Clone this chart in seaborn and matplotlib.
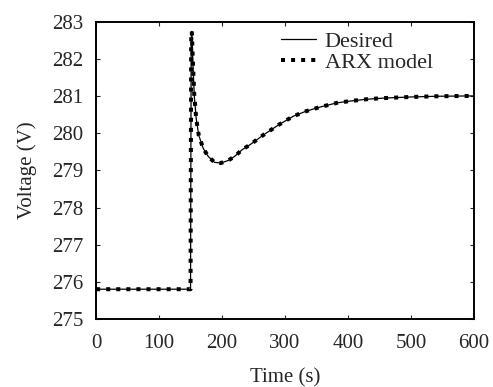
import matplotlib
matplotlib.use("Agg")
import matplotlib.pyplot as plt
import seaborn as sns

# values
time_s = [0, 50, 100, 149, 150, 151, 152, 154, 156, 159, 163, 170, 178, 188, 198,
          210, 220, 232, 245, 266, 290, 313, 334, 356, 382, 403, 430, 456, 498, 540, 600]
desired = [275.8, 275.8, 275.8, 275.8, 275.8, 282.5, 282.75, 281.8, 281.0, 280.4, 279.95,
           279.6, 279.38, 279.22, 279.2, 279.27, 279.38, 279.56, 279.7, 279.96, 280.23,
           280.46, 280.6, 280.71, 280.82, 280.87, 280.92, 280.95, 280.98, 281.0, 281.01]
arx_model = list(desired)

x_ticks = [0, 100, 200, 300, 400, 500, 600]
y_ticks = [275, 276, 277, 278, 279, 280, 281, 282, 283]

sns.set_style("ticks")
plt.rcParams["font.family"] = ["Liberation Serif", "DejaVu Serif"]

fig = plt.figure(figsize=(4.93, 3.87), dpi=100)
ax = fig.add_axes([0.195, 0.176, 0.766, 0.767])

sns.lineplot(x=time_s, y=desired, ax=ax, color="black", lw=0.9, label="Desired")
sns.lineplot(x=time_s, y=arx_model, ax=ax, color="black", lw=2.9,
             linestyle=(0, (1, 1.5)), dash_capstyle="butt", label="ARX model")

ax.set_xlim(0, 600)
ax.set_ylim(275, 283)
ax.set_xticks(x_ticks)
ax.set_yticks(y_ticks)
ax.tick_params(direction="in", top=True, right=True, labelsize=15, length=3, width=0.8)
ax.tick_params(axis="x", pad=11)
ax.tick_params(axis="y", pad=9)
for s in ax.spines.values():
    s.set_linewidth(1.4)
    s.set_color("black")
ax.set_xlabel("Time (s)", fontsize=15, labelpad=11)
ax.set_ylabel("Voltage (V)", fontsize=15, labelpad=11)

ax.legend(loc="upper right", bbox_to_anchor=(0.915, 1.0), frameon=False, fontsize=16,
          handlelength=1.55, handletextpad=0.4, borderaxespad=0.0, labelspacing=0.05)

fig.savefig("out.png", dpi=100)
